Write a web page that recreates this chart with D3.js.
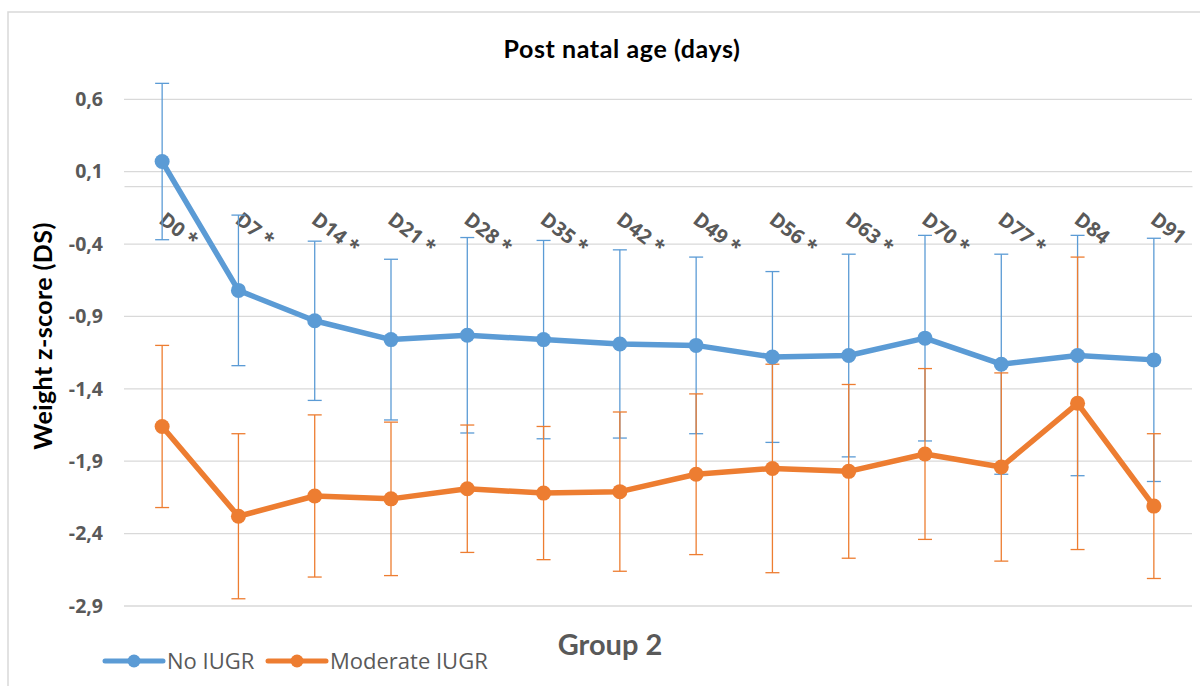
<!DOCTYPE html>
<html>
<head>
<meta charset="utf-8">
<script src="https://cdn.jsdelivr.net/npm/d3@7"></script>
<style>
  body { margin: 0; background: #fff; }
  svg { display: block; }
</style>
</head>
<body>
<svg id="svg" width="1200" height="686"></svg>
<script>
// categories (post natal day) and tick labels
var days = ["D0 *", "D7 *", "D14 *", "D21 *", "D28 *", "D35 *", "D42 *", "D49 *", "D56 *", "D63 *", "D70 *", "D77 *", "D84", "D91"];
var yTicks = [-2.9, -2.4, -1.9, -1.4, -0.9, -0.4, 0.1, 0.6];

// No IUGR: mean and SD
var noIugr = [0.17, -0.72, -0.93, -1.06, -1.03, -1.06, -1.09, -1.10, -1.18, -1.17, -1.05, -1.23, -1.17, -1.20];
var noIugrSd = [0.54, 0.52, 0.55, 0.555, 0.675, 0.685, 0.65, 0.61, 0.59, 0.70, 0.71, 0.76, 0.83, 0.84];

// Moderate IUGR: mean and SD
var modIugr = [-1.66, -2.28, -2.14, -2.16, -2.09, -2.12, -2.11, -1.99, -1.95, -1.97, -1.85, -1.94, -1.50, -2.21];
var modIugrSd = [0.56, 0.57, 0.56, 0.53, 0.44, 0.46, 0.55, 0.555, 0.72, 0.60, 0.59, 0.65, 1.01, 0.50];

var seriesNames = ["No IUGR", "Moderate IUGR"];
var colors = ["#5B9BD5", "#ED7D31"];

var svg = d3.select("#svg");

var series = [
  { name: seriesNames[0], color: colors[0], values: noIugr.map(function(v, i) { return { day: days[i], v: v, sd: noIugrSd[i] }; }) },
  { name: seriesNames[1], color: colors[1], values: modIugr.map(function(v, i) { return { day: days[i], v: v, sd: modIugrSd[i] }; }) }
];

var x = d3.scalePoint()
    .domain(days)
    .range([124, 1192])
    .padding(0.5);

var y = d3.scaleLinear()
    .domain([-2.9, 0.7])
    .range([606, 84.8]);

// chart frame
svg.append("rect")
    .attr("x", 8).attr("y", 12)
    .attr("width", 1220).attr("height", 700)
    .attr("fill", "none")
    .attr("stroke", "#d9d9d9")
    .attr("stroke-width", 1.5);

// gridlines
svg.append("g")
    .selectAll("line")
    .data(yTicks)
    .enter().append("line")
      .attr("x1", 124).attr("x2", 1192)
      .attr("y1", function(d) { return y(d); })
      .attr("y2", function(d) { return y(d); })
      .attr("stroke", "#d9d9d9")
      .attr("stroke-width", 1.3);

// y axis labels
var yAxis = svg.append("g")
    .attr("transform", "translate(103,0)")
    .call(d3.axisLeft(y)
      .tickValues(yTicks)
      .tickSize(0)
      .tickPadding(0)
      .tickFormat(function(d) { return d3.format(".1f")(d).replace(".", ",").replace("−", "-"); }));
yAxis.select(".domain").remove();
yAxis.selectAll("text")
    .attr("fill", "#595959")
    .attr("font-family", "Open Sans")
    .attr("font-weight", "bold")
    .attr("font-size", "19.5px");

// category axis crossing at 0
var xAxis = svg.append("g")
    .attr("transform", "translate(0," + y(0) + ")")
    .call(d3.axisBottom(x).tickSize(0).tickSizeOuter(0));
xAxis.select(".domain")
    .attr("stroke", "#d9d9d9")
    .attr("stroke-width", 1.3);
xAxis.selectAll("text")
    .attr("x", 0).attr("y", 0).attr("dy", 0)
    .attr("text-anchor", "start")
    .attr("transform", "translate(-5,36) rotate(38)")
    .attr("fill", "#595959")
    .attr("font-family", "Open Sans")
    .attr("font-weight", "bold")
    .attr("font-size", "20px");

// error bars
series.forEach(function(s) {
  var eb = svg.append("g").attr("stroke", s.color).attr("stroke-width", 1.3);
  s.values.forEach(function(d) {
    var cx = x(d.day), top = y(d.v + d.sd), bot = y(d.v - d.sd);
    eb.append("line").attr("x1", cx).attr("x2", cx).attr("y1", top).attr("y2", bot);
    eb.append("line").attr("x1", cx - 7).attr("x2", cx + 7).attr("y1", top).attr("y2", top);
    eb.append("line").attr("x1", cx - 7).attr("x2", cx + 7).attr("y1", bot).attr("y2", bot);
  });
});

var line = d3.line()
    .x(function(d) { return x(d.day); })
    .y(function(d) { return y(d.v); });

series.slice().reverse().forEach(function(s) {
  svg.append("path")
      .datum(s.values)
      .attr("fill", "none")
      .attr("stroke", s.color)
      .attr("stroke-width", 5.5)
      .attr("stroke-linejoin", "round")
      .attr("d", line);
  svg.append("g")
    .selectAll("circle")
    .data(s.values)
    .enter().append("circle")
      .attr("cx", function(d) { return x(d.day); })
      .attr("cy", function(d) { return y(d.v); })
      .attr("r", 7.5)
      .attr("fill", s.color);
});

// titles
svg.append("text")
    .attr("x", 622).attr("y", 58)
    .attr("text-anchor", "middle")
    .attr("font-family", "Lato")
    .attr("font-weight", "bold")
    .attr("font-size", "25px")
    .attr("letter-spacing", "0.6px")
    .attr("fill", "#000")
    .text("Post natal age (days)");

svg.append("text")
    .attr("transform", "translate(52,336) rotate(-90)")
    .attr("text-anchor", "middle")
    .attr("font-family", "Lato")
    .attr("font-weight", "bold")
    .attr("font-size", "25px")
    .attr("letter-spacing", "0.4px")
    .attr("fill", "#000")
    .text("Weight z-score (DS)");

svg.append("text")
    .attr("x", 610).attr("y", 655)
    .attr("text-anchor", "middle")
    .attr("font-family", "Lato")
    .attr("font-weight", "bold")
    .attr("font-size", "29px")
    .attr("fill", "#595959")
    .text("Group 2");

// legend
var legend = svg.append("g")
    .selectAll("g")
    .data(series)
    .enter().append("g")
      .attr("transform", function(d, i) { return "translate(" + [105, 268][i] + ",661)"; });
legend.append("line")
    .attr("x1", 0).attr("x2", 58)
    .attr("stroke", function(d) { return d.color; })
    .attr("stroke-width", 5)
    .attr("stroke-linecap", "round");
legend.append("circle")
    .attr("cx", 29).attr("r", 6.5)
    .attr("fill", function(d) { return d.color; });
legend.append("text")
    .attr("x", 62).attr("y", 0).attr("dy", "0.36em")
    .attr("font-family", "Open Sans")
    .attr("font-size", "22px")
    .attr("fill", "#595959")
    .text(function(d) { return d.name; });
</script>
</body>
</html>
